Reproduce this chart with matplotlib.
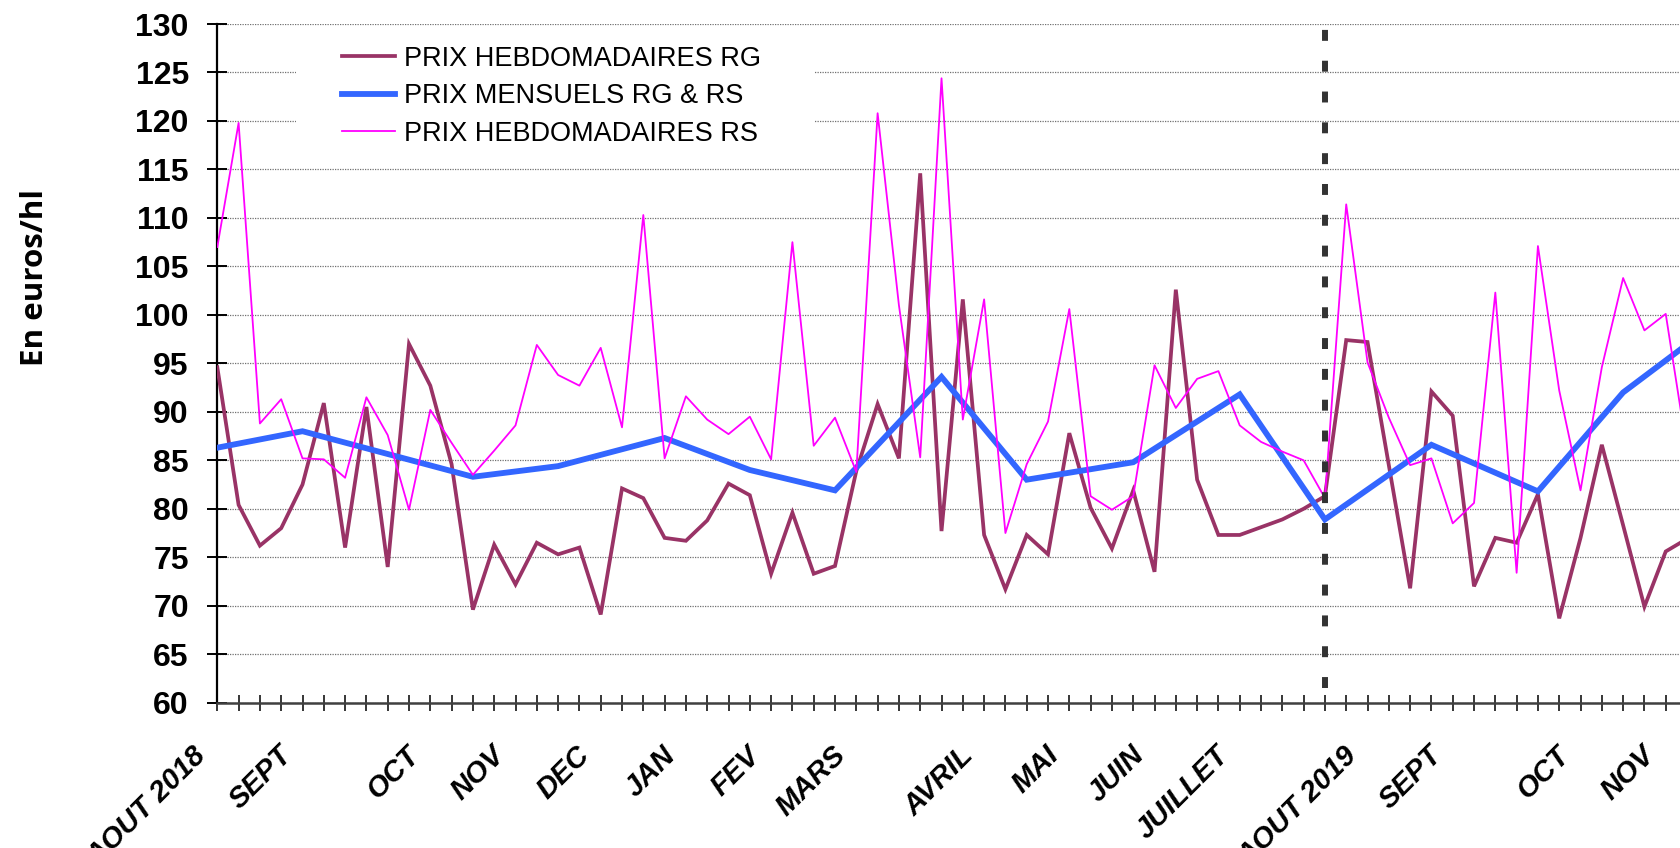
import matplotlib
matplotlib.use("Agg")
import matplotlib.pyplot as plt
import matplotlib.transforms as mtransforms
from matplotlib.patches import Rectangle
from matplotlib.lines import Line2D

# ---------------- data ----------------
weeks = list(range(70))
rg_weekly = [94.6, 80.4, 76.2, 78.0, 82.5, 90.9, 76.0, 90.5, 74.0, 97.0,
             92.7, 84.6, 69.6, 76.3, 72.2, 76.5, 75.3, 76.0, 69.1, 82.1,
             81.1, 77.0, 76.7, 78.8, 82.6, 81.4, 73.3, 79.6, 73.3, 74.1,
             83.9, 90.8, 85.2, 114.6, 77.7, 101.6, 77.3, 71.7, 77.3, 75.3,
             87.8, 80.1, 75.9, 81.9, 73.5, 102.6, 83.0, 77.3, 77.3, 78.1,
             78.9, 80.0, 81.3, 97.4, 97.2, 84.5, 71.8, 92.1, 89.6, 72.0,
             77.0, 76.5, 81.5, 68.7, 77.0, 86.6, 78.3, 69.9, 75.6, 76.9]
rs_weekly = [107.0, 119.8, 88.8, 91.3, 85.2, 85.1, 83.2, 91.5, 87.6, 79.9,
             90.2, 86.8, 83.5, 86.0, 88.6, 96.9, 93.8, 92.7, 96.6, 88.4,
             110.3, 85.2, 91.6, 89.2, 87.7, 89.5, 85.1, 107.5, 86.5, 89.4,
             83.8, 120.8, 101.0, 85.3, 124.4, 89.2, 101.6, 77.5, 84.6, 89.0,
             100.6, 81.3, 79.9, 81.3, 94.8, 90.4, 93.4, 94.2, 88.6, 86.9,
             85.9, 85.0, 81.1, 111.4, 95.1, 89.4, 84.5, 85.2, 78.5, 80.6,
             102.3, 73.4, 107.1, 92.2, 81.9, 94.6, 103.8, 98.4, 100.1, 86.0]
monthly_weeks = [0, 4, 12, 16, 21, 25, 29, 34, 38, 43, 48, 52, 57, 62, 66, 70]
monthly_values = [86.3, 88.0, 83.3, 84.4, 87.3, 84.0, 81.9, 93.6, 83.0, 84.8,
                  91.8, 78.9, 86.6, 81.8, 92.0, 98.6]
month_labels = ['AOUT 2018', 'SEPT', 'OCT', 'NOV', 'DEC', 'JAN', 'FEV', 'MARS',
                'AVRIL', 'MAI', 'JUIN', 'JUILLET', 'AOUT 2019', 'SEPT', 'OCT', 'NOV']
month_label_weeks = [0, 4, 10, 14, 18, 22, 26, 30, 36, 40, 44, 48, 54, 58, 64, 68]
year_break_week = 52
series_names = ['PRIX HEBDOMADAIRES RG', 'PRIX MENSUELS RG & RS', 'PRIX HEBDOMADAIRES RS']
y_ticks = list(range(60, 131, 5))

# ---------------- style ----------------
plt.rcParams['font.family'] = ['Liberation Sans', 'DejaVu Sans']
C_RG = '#993366'
C_M = '#3366FF'
C_RS = '#FF00FF'

W, H = 1680, 848
fig = plt.figure(figsize=(W / 100, H / 100), dpi=100)
ax_l, ax_r, ax_t, ax_b = 217.3, 1680.0, 24.0, 702.7
ax = fig.add_axes([ax_l / W, (H - ax_b) / H, (ax_r - ax_l) / W, (ax_b - ax_t) / H])

ax.set_xlim(0, 68.67)
ax.set_ylim(60, 130)
ax.set_yticks(y_ticks)
ax.set_xticks(weeks[:69])
ax.set_xticklabels([])
ax.set_axisbelow(True)
ax.yaxis.grid(True, color='#707070', linewidth=0.9, linestyle=(0, (1, 1)))
ax.xaxis.grid(False)

for s in ['top', 'right']:
    ax.spines[s].set_visible(False)
ax.spines['left'].set_color('black')
ax.spines['left'].set_linewidth(1.6)
ax.spines['bottom'].set_color('#404040')
ax.spines['bottom'].set_linewidth(1.8)

ax.tick_params(axis='y', direction='inout', length=15, width=1.4, pad=13,
               labelsize=23, colors='black')
ax.tick_params(axis='x', direction='inout', length=12, width=1.1)
for lab in ax.get_yticklabels():
    lab.set_fontweight('bold')

# lines
ax.plot(weeks, rg_weekly, color=C_RG, lw=2.7, zorder=3, solid_joinstyle='miter')
ax.plot(monthly_weeks, monthly_values, color=C_M, lw=4.2, zorder=4, solid_joinstyle='miter')
ax.plot(weeks, rs_weekly, color=C_RS, lw=1.3, zorder=5)

# year separator
ax.plot([year_break_week, year_break_week], [130, 60], color='#333333', lw=4.3,
        linestyle=(4.17, (1.83, 3.33)), dash_capstyle='butt', zorder=6, clip_on=False)

# month labels
base = mtransforms.blended_transform_factory(ax.transData, ax.transAxes)
lab_tr = mtransforms.offset_copy(base, fig=fig, x=-25, y=-(741 - ax_b), units='dots')
for w, t in zip(month_label_weeks, month_labels):
    ax.text(w, 0, t, transform=lab_tr, rotation=45, rotation_mode='anchor',
            ha='right', va='top', fontsize=21, fontweight='bold', fontstyle='italic',
            clip_on=False)

# y label
fig.text(35 / W, 1 - 277 / H, 'En euros/hl', rotation=90, ha='center', va='center',
         fontsize=22.5, fontweight='bold', family=['Open Sans', 'DejaVu Sans'])

# legend background
def fx(px):
    return (px - ax_l) / (ax_r - ax_l)

def fy(py):
    return (ax_b - py) / (ax_b - ax_t)

ax.add_patch(Rectangle((fx(296), fy(160)), fx(814) - fx(296), fy(30) - fy(160),
                       transform=ax.transAxes, facecolor='white', edgecolor='none', zorder=1))

handles = [Line2D([], [], color=C_RG, lw=2.7),
           Line2D([], [], color=C_M, lw=4.2),
           Line2D([], [], color=C_RS, lw=1.3)]
leg = ax.legend(handles, series_names, loc='upper left',
                bbox_to_anchor=(fx(331), fy(35)), borderaxespad=0, borderpad=0.4,
                frameon=False, fontsize=19.5, handlelength=1.95, handletextpad=0.33,
                labelspacing=0.42)
leg.set_zorder(7)

fig.savefig('out.png', dpi=100)
